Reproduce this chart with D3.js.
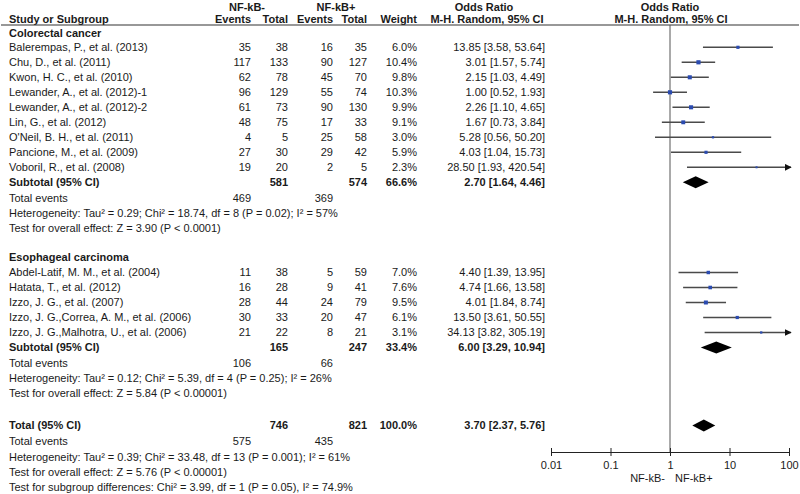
<!DOCTYPE html>
<html>
<head>
<meta charset="utf-8">
<script src="https://cdn.jsdelivr.net/npm/d3@7"></script>
<style>
body { margin: 0; background: #fff; }
svg text { font-family: "Liberation Sans", Arial, sans-serif; font-size: 11px; fill: #1a1a1a; }
svg text.b { font-weight: bold; }
</style>
</head>
<body>
<div id="chart"></div>
<script>
// study rows: name, NF-kB- events, total, NF-kB+ events, total, weight %, OR, lower, upper
const colorectal = [
  ["Balerempas, P., et al. (2013)", 35, 38, 16, 35, 6.0, 13.85, 3.58, 53.64],
  ["Chu, D., et al. (2011)", 117, 133, 90, 127, 10.4, 3.01, 1.57, 5.74],
  ["Kwon, H. C., et al. (2010)", 62, 78, 45, 70, 9.8, 2.15, 1.03, 4.49],
  ["Lewander, A., et al. (2012)-1", 96, 129, 55, 74, 10.3, 1.00, 0.52, 1.93],
  ["Lewander, A., et al. (2012)-2", 61, 73, 90, 130, 9.9, 2.26, 1.10, 4.65],
  ["Lin, G., et al. (2012)", 48, 75, 17, 33, 9.1, 1.67, 0.73, 3.84],
  ["O'Neil, B. H., et al. (2011)", 4, 5, 25, 58, 3.0, 5.28, 0.56, 50.20],
  ["Pancione, M., et al. (2009)", 27, 30, 29, 42, 5.9, 4.03, 1.04, 15.73],
  ["Voboril, R., et al. (2008)", 19, 20, 2, 5, 2.3, 28.50, 1.93, 420.54]
];
const esophageal = [
  ["Abdel-Latif, M. M., et al. (2004)", 11, 38, 5, 59, 7.0, 4.40, 1.39, 13.95],
  ["Hatata, T., et al. (2012)", 16, 28, 9, 41, 7.6, 4.74, 1.66, 13.58],
  ["Izzo, J. G., et al. (2007)", 28, 44, 24, 79, 9.5, 4.01, 1.84, 8.74],
  ["Izzo, J. G.,Correa, A. M., et al. (2006)", 30, 33, 20, 47, 6.1, 13.50, 3.61, 50.55],
  ["Izzo, J. G.,Malhotra, U., et al. (2006)", 21, 22, 8, 21, 3.1, 34.13, 3.82, 305.19]
];
// pooled rows: label, NF-kB- total, NF-kB+ total, weight %, OR, lower, upper
const subtotals = [
  ["Subtotal (95% CI)", 581, 574, 66.6, 2.70, 1.64, 4.46],
  ["Subtotal (95% CI)", 165, 247, 33.4, 6.00, 3.29, 10.94]
];
const overall = ["Total (95% CI)", 746, 821, 100.0, 3.70, 2.37, 5.76];
const totalEvents = [[469, 369], [106, 66], [575, 435]];
const heterogeneity = [
  "Heterogeneity: Tau² = 0.29; Chi² = 18.74, df = 8 (P = 0.02); I² = 57%",
  "Heterogeneity: Tau² = 0.12; Chi² = 5.39, df = 4 (P = 0.25); I² = 26%",
  "Heterogeneity: Tau² = 0.39; Chi² = 33.48, df = 13 (P = 0.001); I² = 61%"
];
const overallEffect = [
  "Test for overall effect: Z = 3.90 (P < 0.0001)",
  "Test for overall effect: Z = 5.84 (P < 0.00001)",
  "Test for overall effect: Z = 5.76 (P < 0.00001)"
];
const subgroupTest = "Test for subgroup differences: Chi² = 3.99, df = 1 (P = 0.05), I² = 74.9%";
const groupNames = ["Colorectal cancer", "Esophageal carcinoma"];
const axisTicks = [0.01, 0.1, 1, 10, 100];
const tickLabels = ["0.01", "0.1", "1", "10", "100"];
const favourLabels = ["NF-kB-", "NF-kB+"];

const width = 800, height = 494;
const svg = d3.select("#chart").append("svg")
  .attr("width", width)
  .attr("height", height);

// column anchors (right edges for numbers)
const col = { study: 9, evNeg: 251, totNeg: 288, evPos: 333, totPos: 367, weight: 417, ci: 545 };

const xScale = d3.scaleLog().domain([0.01, 100]).range([551, 789]);
const axisY = 452;
const step = 15;

function txt(x, y, s, anchor, bold) {
  return svg.append("text")
    .attr("x", x).attr("y", y).attr("dy", "0.35em")
    .attr("text-anchor", anchor || "start")
    .attr("class", bold ? "b" : null)
    .text(s);
}
const ciText = (o, l, h) => o.toFixed(2) + " [" + l.toFixed(2) + ", " + h.toFixed(2) + "]";

// header
txt(247, 7, "NF-kB-", "middle", true);
txt(336, 7, "NF-kB+", "middle", true);
txt(484, 7, "Odds Ratio", "middle", true);
txt(xScale(1), 7, "Odds Ratio", "middle", true);
txt(col.study, 19, "Study or Subgroup", "start", true);
txt(col.evNeg, 19, "Events", "end", true);
txt(col.totNeg, 19, "Total", "end", true);
txt(col.evPos, 19, "Events", "end", true);
txt(col.totPos, 19, "Total", "end", true);
txt(col.weight, 19, "Weight", "end", true);
txt(487, 19, "M-H. Random, 95% CI", "middle", true);
txt(xScale(1) + 1, 19, "M-H. Random, 95% CI", "middle", true);

svg.append("line")
  .attr("x1", 1).attr("x2", 799)
  .attr("y1", 25).attr("y2", 25)
  .attr("stroke", "#333").attr("stroke-width", 1.2);

// null line
svg.append("line")
  .attr("x1", xScale(1)).attr("x2", xScale(1))
  .attr("y1", 25).attr("y2", axisY)
  .attr("stroke", "#555").attr("stroke-width", 1);

const plot = svg.append("g");

svg.append("defs").append("marker")
  .attr("id", "arrow")
  .attr("viewBox", "0 0 10 10")
  .attr("refX", 9).attr("refY", 5)
  .attr("markerWidth", 5).attr("markerHeight", 5)
  .attr("orient", "auto")
  .append("path").attr("d", "M0,0L10,5L0,10Z").attr("fill", "#111");

function diamond(y, d) {
  const h = 6;
  plot.append("path")
    .attr("d", "M" + xScale(d[5]) + "," + y + "L" + xScale(d[4]) + "," + (y - h) +
      "L" + xScale(d[6]) + "," + y + "L" + xScale(d[4]) + "," + (y + h) + "Z")
    .attr("fill", "#000");
}

function pooledRow(y, d) {
  txt(col.study, y, d[0], "start", true);
  txt(col.totNeg, y, d[1], "end", true);
  txt(col.totPos, y, d[2], "end", true);
  txt(col.weight, y, d[3].toFixed(1) + "%", "end", true);
  txt(col.ci, y, ciText(d[4], d[5], d[6]), "end", true);
  diamond(y, d);
}

function section(gi, studies, yHead, yFirst) {
  txt(col.study, yHead, groupNames[gi], "start", true);
  studies.forEach(function(d, i) {
    const y = yFirst + i * step;
    txt(col.study, y, d[0]);
    txt(col.evNeg, y, d[1], "end");
    txt(col.totNeg, y, d[2], "end");
    txt(col.evPos, y, d[3], "end");
    txt(col.totPos, y, d[4], "end");
    txt(col.weight, y, d[5].toFixed(1) + "%", "end");
    txt(col.ci, y, ciText(d[6], d[7], d[8]), "end");
    const hiClip = Math.min(d[8], 100);
    plot.append("line")
      .attr("x1", xScale(d[7])).attr("x2", d[8] > 100 ? xScale(100) + 2 : xScale(hiClip))
      .attr("y1", y).attr("y2", y)
      .attr("stroke", "#4a4a4a").attr("stroke-width", 1.4)
      .attr("marker-end", d[8] > 100 ? "url(#arrow)" : null);
    const s = 1.3 * Math.sqrt(d[5]);
    plot.append("rect")
      .attr("x", xScale(d[6]) - s / 2).attr("y", y - s / 2)
      .attr("width", s).attr("height", s)
      .attr("fill", "#2b4bb0");
  });
  const ySub = yFirst + studies.length * step;
  pooledRow(ySub, subtotals[gi]);
  txt(col.study, ySub + 16, "Total events");
  txt(col.evNeg, ySub + 16, totalEvents[gi][0], "end");
  txt(col.evPos, ySub + 16, totalEvents[gi][1], "end");
  txt(col.study, ySub + 31, heterogeneity[gi]);
  txt(col.study, ySub + 46, overallEffect[gi]);
}

section(0, colorectal, 33, 47.3);
section(1, esophageal, 257.5, 272.5);

// overall
const yTot = 425.5;
pooledRow(yTot, overall);
txt(col.study, yTot + 16, "Total events");
txt(col.evNeg, yTot + 16, totalEvents[2][0], "end");
txt(col.evPos, yTot + 16, totalEvents[2][1], "end");
txt(col.study, yTot + 31.5, heterogeneity[2]);
txt(col.study, yTot + 47, overallEffect[2]);
txt(col.study, yTot + 62, subgroupTest);

// axis
const axis = svg.append("g")
  .attr("transform", "translate(0," + axisY + ")")
  .call(d3.axisBottom(xScale)
    .tickValues(axisTicks)
    .tickFormat((d, i) => tickLabels[i])
    .tickSizeInner(4).tickSizeOuter(0).tickPadding(5));
axis.select(".domain").attr("stroke", "#222");
axis.selectAll(".tick line").attr("y1", -4).attr("y2", 4).attr("stroke", "#222");
axis.selectAll(".tick text")
  .style("font-family", "\"Liberation Sans\", Arial, sans-serif")
  .style("font-size", "11px").attr("fill", "#1a1a1a");

txt(xScale(1) - 5, 478, favourLabels[0], "end");
txt(xScale(1) + 5, 478, favourLabels[1], "start");
</script>
</body>
</html>
